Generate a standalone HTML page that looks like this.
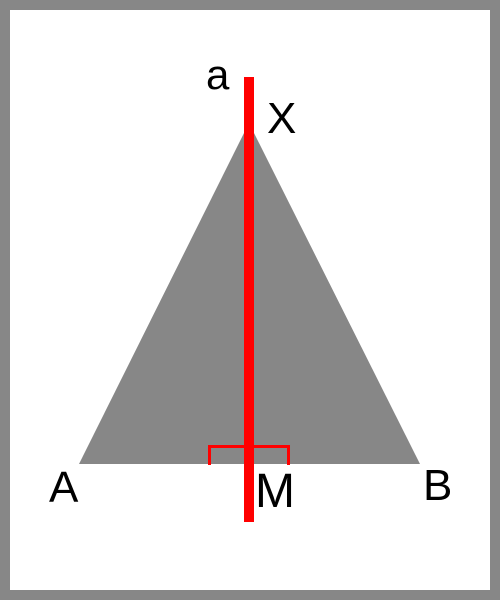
<!DOCTYPE html>
<html><head><style>
html,body{margin:0;padding:0;}
body{width:500px;height:600px;overflow:hidden;background:#fff;}
text{font-family:"Liberation Sans",sans-serif;fill:#000;}
</style></head>
<body>
<svg width="500" height="600" viewBox="0 0 500 600">
<rect x="5" y="5" width="490" height="590" fill="#fff" stroke="#878787" stroke-width="10"/>
<polygon points="249,123 79,464 420,464" fill="#878787"/>
<polyline points="209.5,465 209.5,446.5 288.5,446.5 288.5,465" fill="none" stroke="#ff0000" stroke-width="3"/>
<rect x="244" y="77" width="10" height="445" fill="#ff0000"/>
<text x="206" y="89" font-size="42">a</text>
<text x="267" y="133" font-size="44">X</text>
<text x="49" y="502" font-size="44">A</text>
<text x="255" y="507" font-size="48">M</text>
<text x="423" y="500" font-size="44">B</text>
</svg>
</body></html>
